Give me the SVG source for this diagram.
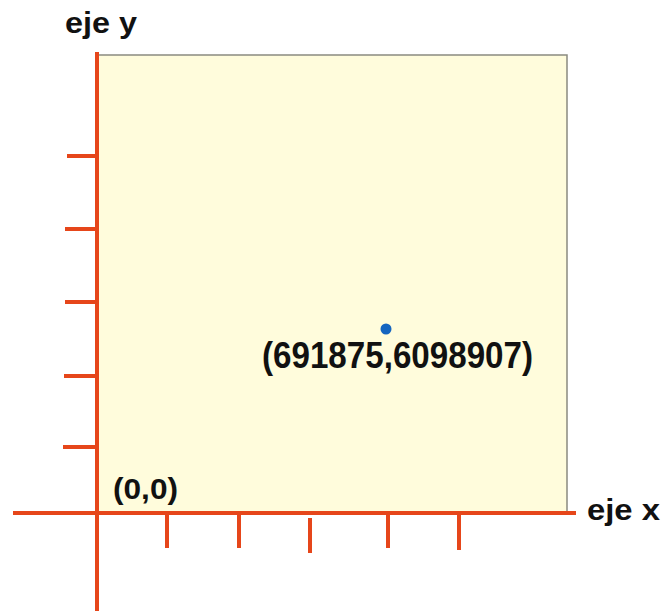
<svg xmlns="http://www.w3.org/2000/svg" width="661" height="611" viewBox="0 0 661 611">
<style>
.ax{stroke:#e6461a;stroke-width:4;fill:none;stroke-linecap:butt}
.lbl{font-family:"Liberation Sans",Arial,sans-serif;font-weight:bold;fill:#111}
</style>
<rect width="661" height="611" fill="#ffffff"/>
<g id="plane">
<rect x="97" y="55" width="470" height="457" fill="#fffcdc" stroke="#8a8a80" stroke-width="1.5"/>
</g>
<g id="connectors">
<line class="ax" x1="97" y1="52" x2="97" y2="611"/>
<line class="ax" x1="13" y1="513" x2="576" y2="513"/>
<line class="ax" x1="67" y1="156" x2="97" y2="156"/>
<line class="ax" x1="65" y1="229" x2="97" y2="229"/>
<line class="ax" x1="65" y1="302" x2="97" y2="302"/>
<line class="ax" x1="64" y1="376" x2="97" y2="376"/>
<line class="ax" x1="63" y1="447" x2="97" y2="447"/>
<line class="ax" x1="167" y1="513" x2="167" y2="548"/>
<line class="ax" x1="239" y1="513" x2="239" y2="548"/>
<line class="ax" x1="310" y1="518" x2="310" y2="553"/>
<line class="ax" x1="388" y1="513" x2="388" y2="548"/>
<line class="ax" x1="459" y1="513" x2="459" y2="550"/>
</g>
<g id="label-y">
<text class="lbl" x="65" y="33" font-size="29" textLength="72" lengthAdjust="spacingAndGlyphs">eje y</text>
</g>
<g id="label-x">
<text class="lbl" x="587" y="520" font-size="29" textLength="73" lengthAdjust="spacingAndGlyphs">eje x</text>
</g>
<g id="origin">
<text class="lbl" x="113" y="499" font-size="30" textLength="65" lengthAdjust="spacingAndGlyphs">(0,0)</text>
</g>
<g id="point">
<circle cx="386" cy="329" r="5.5" fill="#1565c0"/>
<text class="lbl" x="262" y="368" font-size="36" textLength="271" lengthAdjust="spacingAndGlyphs">(691875,6098907)</text>
</g>
</svg>
